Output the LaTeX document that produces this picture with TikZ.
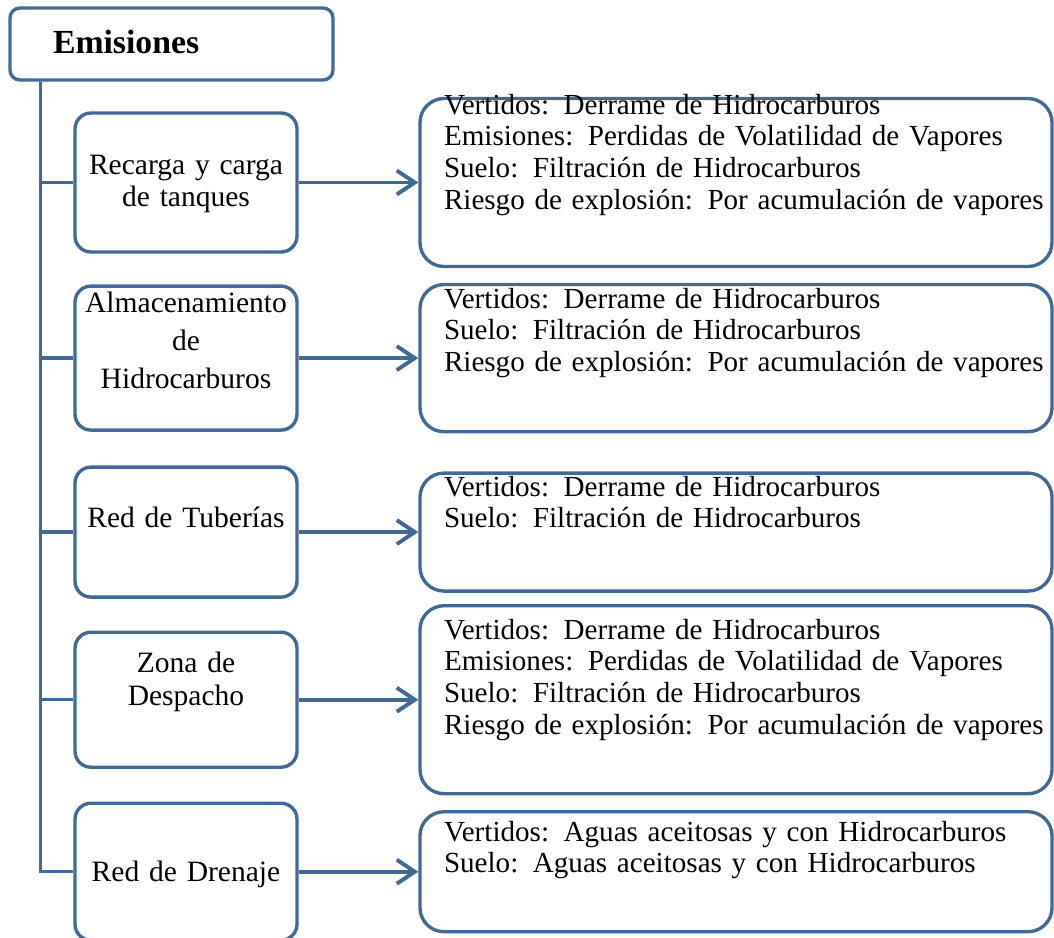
\documentclass[tikz,border=0pt]{standalone}
\usepackage{fontspec}
\setmainfont{Liberation Serif}
\usepackage{xcolor}
\usetikzlibrary{positioning,arrows.meta}
\definecolor{boxblue}{RGB}{66,104,150}

\begin{document}
\begin{tikzpicture}[boxline/.style={draw=boxblue, line width=2.4pt},
    headbox/.style={boxline, rounded corners=0.25cm, align=left, text width=5.925cm, inner xsep=1.075cm, inner ysep=0pt, font=\fontsize{24pt}{28pt}\selectfont\bfseries},
    srcbox/.style={boxline, rounded corners=0.4cm, align=center, text width=5.45cm, inner xsep=0.05cm, inner ysep=0pt, font=\fontsize{21pt}{23.4pt}\selectfont},
    effbox/.style={boxline, rounded corners=0.6cm, align=left, text width=15.5cm, inner xsep=0.15cm, inner ysep=0pt, font=\fontsize{20.7pt}{22.5pt}\selectfont, execute at begin node={\leftskip=0.45cm}},
    link/.style={draw=boxblue, line width=2.4pt},
    arr/.style={draw=boxblue, line width=2.8pt, -{Straight Barb[length=0.45cm,width=0.6cm]}}]
    \useasboundingbox (0,0) rectangle (26.35,-23.425);

    \node [headbox, text height=1.125cm, text depth=0.675cm] (emis) at (4.2875,-1.1) {Emisiones};
    \coordinate (trunk) at ([xshift=0.8cm]emis.south west);

    \node [srcbox, below of=emis, node distance=3.4625cm, xshift=0.3625cm, text height=1.525cm, text depth=1.95cm] (recarga) {Recarga y carga\\ de tanques};
    \node [srcbox, below of=recarga, node distance=4.39cm, text height=0.65cm, text depth=2.95cm] (almac) {Almacenamiento\\[3.6pt] de\\[3.6pt] Hidrocarburos};
    \node [srcbox, below of=almac, node distance=4.35cm, text height=1.5cm, text depth=1.75cm] (tuber) {Red de Tuberías};
    \node [srcbox, below of=tuber, node distance=4.19cm, text height=1.0cm, text depth=2.375cm] (desp) {Zona de\\ Despacho};
    \node [srcbox, below of=desp, node distance=4.3cm, text height=1.95cm, text depth=1.475cm] (dren) {Red de Drenaje};

    \node [effbox, right of=recarga, node distance=13.75cm, text height=0.39cm, text depth=3.81cm] (efrecarga) {Vertidos: Derrame de Hidrocarburos\\ Emisiones: Perdidas de Volatilidad de Vapores\\ Suelo: Filtración de Hidrocarburos\\ Riesgo de explosión: Por acumulación de vapores};
    \node [effbox, right of=almac, node distance=13.75cm, text height=0.59cm, text depth=3.09cm] (efalmac) {Vertidos: Derrame de Hidrocarburos\\ Suelo: Filtración de Hidrocarburos\\ Riesgo de explosión: Por acumulación de vapores};
    \node [effbox, right of=tuber, node distance=13.75cm, text height=0.575cm, text depth=2.375cm] (eftuber) {Vertidos: Derrame de Hidrocarburos\\ Suelo: Filtración de Hidrocarburos};
    \node [effbox, right of=desp, node distance=13.75cm, text height=0.84cm, text depth=3.86cm] (efdesp) {Vertidos: Derrame de Hidrocarburos\\ Emisiones: Perdidas de Volatilidad de Vapores\\ Suelo: Filtración de Hidrocarburos\\ Riesgo de explosión: Por acumulación de vapores};
    \node [effbox, right of=dren, node distance=13.75cm, text height=0.74cm, text depth=2.26cm] (efdren) {Vertidos: Aguas aceitosas y con Hidrocarburos\\ Suelo: Aguas aceitosas y con Hidrocarburos};

    % tronco
    \draw [link] (trunk) |- (recarga);
    \draw [link] (trunk) |- (almac);
    \draw [link] (trunk) |- (tuber);
    \draw [link] (trunk) |- (desp);
    \draw [link] (trunk) |- (dren);

    \draw [arr] (recarga) -- (efrecarga);
    \draw [arr] (almac) -- (efalmac);
    \draw [arr] (tuber) -- (eftuber);
    \draw [arr] (desp) -- (efdesp);
    \draw [arr] (dren) -- (efdren);
\end{tikzpicture}
\end{document}
